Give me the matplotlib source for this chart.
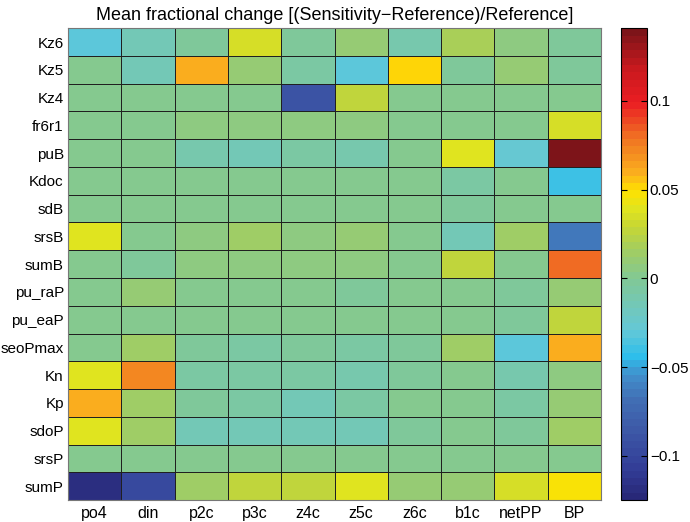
import numpy as np
import matplotlib
matplotlib.use("Agg")
import matplotlib.pyplot as plt
from matplotlib.colors import LinearSegmentedColormap

plt.rcParams["font.family"] = ["Liberation Sans", "DejaVu Sans"]

params = ["Kz6", "Kz5", "Kz4", "fr6r1", "puB", "Kdoc", "sdB", "srsB", "sumB",
          "pu_raP", "pu_eaP", "seoPmax", "Kn", "Kp", "sdoP", "srsP", "sumP"]
outputs = ["po4", "din", "p2c", "p3c", "z4c", "z5c", "z6c", "b1c", "netPP", "BP"]

# one list per parameter row, values per output column
kz6 = [-0.030, -0.015, -0.003, 0.035, -0.003, 0.010, -0.012, 0.020, 0.006, -0.003]
kz5 = [0.002, -0.015, 0.060, 0.010, -0.006, -0.030, 0.053, -0.004, 0.010, -0.003]
kz4 = [0.000, 0.000, 0.000, 0.000, -0.090, 0.025, 0.001, 0.000, 0.000, 0.000]
fr6r1 = [0.000, 0.001, 0.006, 0.005, 0.004, 0.004, 0.003, 0.003, 0.003, 0.033]
pub = [0.000, 0.000, -0.010, -0.014, -0.005, -0.010, 0.000, 0.040, -0.028, 0.140]
kdoc = [0.000, 0.000, 0.000, 0.000, 0.000, 0.000, 0.000, -0.008, 0.000, -0.040]
sdb = [0.000, 0.000, 0.000, 0.000, 0.000, 0.000, 0.000, -0.004, 0.000, 0.002]
srsb = [0.040, 0.000, 0.005, 0.013, 0.004, 0.010, 0.003, -0.015, 0.013, -0.065]
sumb = [0.000, -0.002, 0.005, 0.004, 0.004, 0.005, 0.003, 0.025, 0.003, 0.080]
pu_rap = [0.000, 0.012, 0.001, 0.001, 0.000, -0.004, 0.000, 0.002, -0.003, 0.008]
pu_eap = [0.000, 0.001, 0.000, 0.000, 0.000, 0.000, 0.000, 0.002, -0.003, 0.025]
seopmax = [0.000, 0.013, -0.004, -0.007, -0.004, -0.008, -0.002, 0.014, -0.030, 0.060]
kn = [0.040, 0.072, -0.008, -0.008, -0.005, -0.012, -0.004, 0.002, -0.012, 0.004]
kp = [0.058, 0.014, -0.004, -0.005, -0.014, -0.006, 0.000, 0.002, -0.006, 0.008]
sdop = [0.040, 0.013, -0.013, -0.013, -0.013, -0.014, -0.004, 0.002, -0.002, 0.015]
srsp = [0.001, 0.001, 0.001, 0.001, 0.001, 0.001, 0.001, 0.001, 0.001, 0.001]
sump = [-0.120, -0.100, 0.014, 0.027, 0.027, 0.040, 0.010, 0.010, 0.033, 0.048]

data = np.array([kz6, kz5, kz4, fr6r1, pub, kdoc, sdb, srsb, sumb, pu_rap,
                 pu_eap, seopmax, kn, kp, sdop, srsp, sump])

vmin, vmax = -0.125, 0.141

# muted jet-like colormap sampled from the reference colorbar
cb_vals = [-0.125, -0.11, -0.09, -0.07, -0.055, -0.045, -0.03, -0.015, 0.0,
           0.015, 0.03, 0.04, 0.05, 0.06, 0.08, 0.10, 0.12, 0.141]
cb_cols = [(40, 40, 120), (50, 60, 150), (60, 85, 165), (65, 110, 180),
           (65, 145, 205), (45, 190, 235), (100, 200, 215), (115, 200, 182),
           (130, 200, 148), (160, 205, 100), (200, 215, 50), (225, 228, 30),
           (255, 225, 0), (250, 175, 30), (240, 115, 35), (235, 30, 35),
           (200, 25, 30), (125, 20, 25)]
pos = [(v - vmin) / (vmax - vmin) for v in cb_vals]
cmap = LinearSegmentedColormap.from_list(
    "mjet", list(zip(pos, [tuple(c / 255 for c in col) for col in cb_cols])), N=64)

fig = plt.figure(figsize=(6.9, 5.22), dpi=100)
ax = fig.add_axes([0.0986, 0.042, 0.7724, 0.904])
cax = fig.add_axes([0.900, 0.042, 0.0377, 0.904])

mesh = ax.pcolormesh(data, cmap=cmap, vmin=vmin, vmax=vmax,
                     edgecolors="#202020", linewidth=0.5)
ax.set_xlim(0, len(outputs))
ax.set_ylim(len(params), 0)
ax.set_xticks(np.arange(len(outputs)) + 0.5)
ax.set_xticklabels(outputs, fontsize=11.5)
ax.set_yticks(np.arange(len(params)) + 0.5)
ax.set_yticklabels(params, fontsize=11)
ax.tick_params(axis="x", length=0, pad=4)
ax.tick_params(axis="y", length=0, pad=3)
for s in ax.spines.values():
    s.set_color("#777777")
ax.set_title("Mean fractional change [(Sensitivity\u2212Reference)/Reference]",
             fontsize=13, pad=6)

cb = fig.colorbar(mesh, cax=cax)
cb.set_ticks([-0.1, -0.05, 0, 0.05, 0.1])
cb.set_ticklabels(["\u22120.1", "\u22120.05", "0", "0.05", "0.1"])
cb.ax.tick_params(direction="in", left=True, right=True, length=4,
                  labelsize=11, width=0.8, pad=2)
cb.outline.set_linewidth(0.8)

fig.savefig("out.png", dpi=100)
